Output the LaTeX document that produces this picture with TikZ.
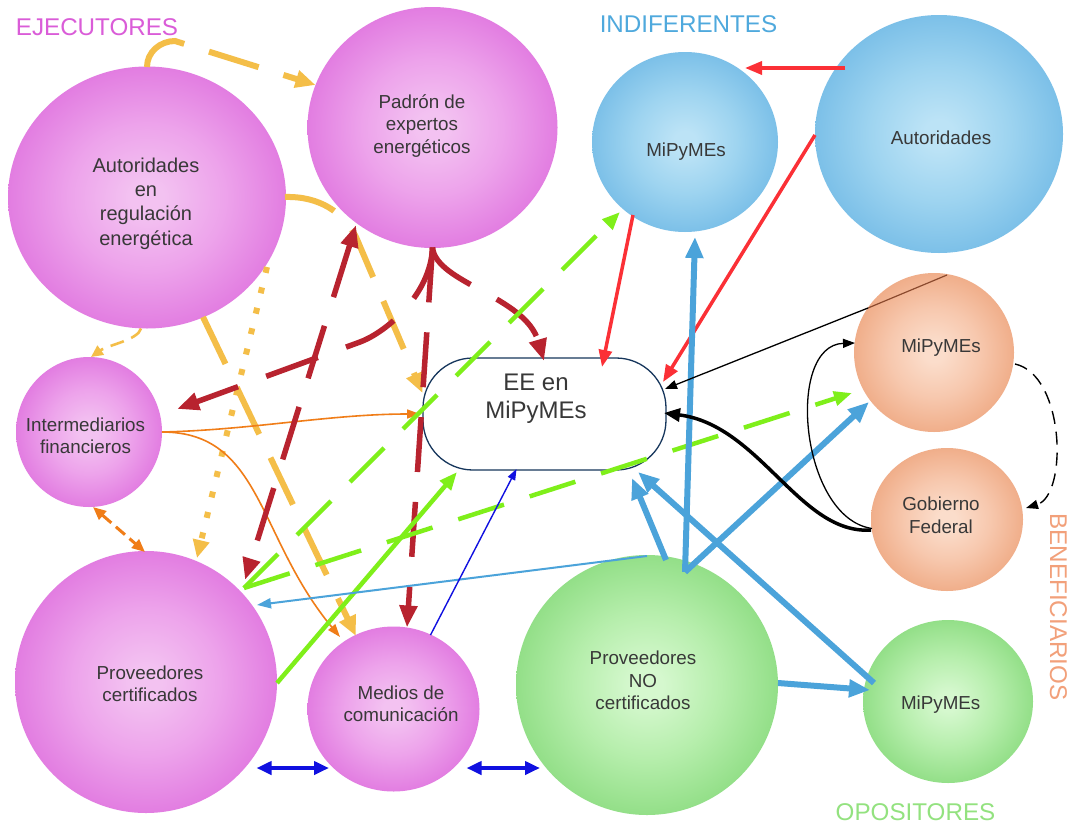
\documentclass[tikz,border=0pt]{standalone}
\usepackage{fontspec}
\setmainfont{Liberation Sans}
\usetikzlibrary{arrows.meta,shapes.geometric}
\definecolor{pA}{HTML}{F3C2F1}
\definecolor{pB}{HTML}{EDA3EB}
\definecolor{pC}{HTML}{E27DE1}
\definecolor{pD}{HTML}{CD57D1}
\definecolor{pE}{HTML}{C042C6}
\definecolor{bA}{HTML}{BCE3F6}
\definecolor{bB}{HTML}{9ED4F0}
\definecolor{bC}{HTML}{7CC0E8}
\definecolor{bD}{HTML}{55A8DB}
\definecolor{bE}{HTML}{3D96D0}
\definecolor{oA}{HTML}{FBDDCB}
\definecolor{oB}{HTML}{F7C8AE}
\definecolor{oC}{HTML}{F0AE8A}
\definecolor{oD}{HTML}{E59A6F}
\definecolor{oE}{HTML}{DC8656}
\definecolor{gA}{HTML}{D5F8CE}
\definecolor{gB}{HTML}{B6EEAC}
\definecolor{gC}{HTML}{93DF88}
\definecolor{gD}{HTML}{72CF69}
\definecolor{gE}{HTML}{5DC455}
\definecolor{txt}{HTML}{383838}
\definecolor{eeb}{HTML}{16365C}
\definecolor{ylwc}{HTML}{F4BE48}
\definecolor{dredc}{HTML}{B8232F}
\definecolor{redc}{HTML}{FB3036}
\definecolor{limec}{HTML}{7FEF1A}
\definecolor{bluec}{HTML}{4BA3DA}
\definecolor{dbluec}{HTML}{1010E0}
\definecolor{orc}{HTML}{F07D18}
\definecolor{brn}{HTML}{8B4A2E}
\definecolor{labm}{HTML}{DA5CD8}
\definecolor{labb}{HTML}{4FA9DD}
\definecolor{labo}{HTML}{F2A07A}
\definecolor{labg}{HTML}{93E27F}
\pgfdeclareradialshading{purpsh}{\pgfpoint{0bp}{0bp}}{color(0bp)=(pA); color(3bp)=(pA); color(14bp)=(pB); color(25bp)=(pC); color(32bp)=(pD); color(35.4bp)=(pE); color(50bp)=(pE)}
\pgfdeclareradialshading{blush}{\pgfpoint{0bp}{0bp}}{color(0bp)=(bA); color(3bp)=(bA); color(14bp)=(bB); color(25bp)=(bC); color(32bp)=(bD); color(35.4bp)=(bE); color(50bp)=(bE)}
\pgfdeclareradialshading{orash}{\pgfpoint{0bp}{0bp}}{color(0bp)=(oA); color(3bp)=(oA); color(14bp)=(oB); color(25bp)=(oC); color(32bp)=(oD); color(35.4bp)=(oE); color(50bp)=(oE)}
\pgfdeclareradialshading{grnsh}{\pgfpoint{0bp}{0bp}}{color(0bp)=(gA); color(3bp)=(gA); color(14bp)=(gB); color(25bp)=(gC); color(32bp)=(gD); color(35.4bp)=(gE); color(50bp)=(gE)}
\begin{document}
\begin{tikzpicture}[x=1pt,y=-1pt,
  bub/.style={ellipse, inner sep=0pt, draw=none},
  purp/.style={bub, shade, shading=purpsh},
  blu/.style={bub, shade, shading=blush},
  ora/.style={bub, shade, shading=orash},
  grn/.style={bub, shade, shading=grnsh},
  eebox/.style={rectangle, rounded corners=50pt, minimum width=243pt, minimum height=112pt, draw=eeb, line width=1.3pt, fill=white, inner sep=0pt},
  txtst/.style={align=center, text=txt, font=\fontsize{18.8}{22.5}\selectfont, inner sep=0pt},
  lab/.style={font=\fontsize{24.2}{28}\selectfont, inner sep=0pt},
  ylw/.style={draw=ylwc, line width=6pt, dash pattern=on 52pt off 26pt, -{Triangle[length=20pt,width=17pt]}},
  ydot/.style={draw=ylwc, line width=6pt, dash pattern=on 6pt off 15pt, -{Triangle[length=18pt,width=16pt]}},
  ythin/.style={draw=ylwc, line width=2.6pt, dash pattern=on 14pt off 8pt, -{Triangle[length=12pt,width=11pt]}},
  dred/.style={draw=dredc, line width=5.5pt, dash pattern=on 55pt off 30pt, -{Triangle[length=22pt,width=17pt]}},
  redl/.style={draw=redc, line width=3.5pt, -{Triangle[length=17pt,width=13pt]}},
  limed/.style={draw=limec, line width=4.5pt, dash pattern=on 48pt off 27pt, -{Triangle[length=18pt,width=14pt]}},
  limes/.style={draw=limec, line width=4.5pt, -{Triangle[length=18pt,width=14pt]}},
  bthick/.style={draw=bluec, line width=6pt, -{Triangle[length=21pt,width=17pt]}},
  bthin/.style={draw=bluec, line width=2pt, -{Triangle[length=14pt,width=10pt]}},
  dbthin/.style={draw=dbluec, line width=1.4pt, -{Triangle[length=11pt,width=8pt]}},
  dbthick/.style={draw=dbluec, line width=4pt, {Triangle[length=15pt,width=13pt]}-{Triangle[length=15pt,width=13pt]}},
  orthin/.style={draw=orc, line width=1.6pt, -{Triangle[length=13pt,width=9pt]}},
  ordash/.style={draw=orc, line width=3pt, dash pattern=on 12pt off 6pt, {Triangle[length=13pt,width=11pt]}-{Triangle[length=13pt,width=11pt]}},
  kthin/.style={draw=black, line width=1.3pt, -{Triangle[length=12pt,width=9pt]}},
  kthick/.style={draw=black, line width=3.5pt, -{Triangle[length=16pt,width=13pt]}},
  kdash/.style={draw=black, line width=1.4pt, dash pattern=on 13pt off 8pt, -{Triangle[length=12pt,width=9pt]}}
]
\useasboundingbox (0,0) rectangle (1070,827);
\fill[white] (0,0) rectangle (1070,827);

% bubbles
\node[purp, minimum width=278pt, minimum height=262pt] (autreg) at (147,197.5) {};
\node[purp, minimum width=250pt, minimum height=241pt] (padron) at (432.5,127.5) {};
\node[purp, minimum width=146pt, minimum height=150pt] (inter) at (89,432) {};
\node[purp, minimum width=262pt, minimum height=262pt] (provcert) at (146,682) {};
\node[purp, minimum width=172pt, minimum height=165pt] (medios) at (393.5,709) {};
\node[blu, minimum width=186pt, minimum height=180pt] (mipyb) at (685,142) {};
\node[blu, minimum width=248pt, minimum height=238pt] (autb) at (939,134) {};
\node[ora, minimum width=160pt, minimum height=159pt] (mipyo) at (934,352.5) {};
\node[ora, minimum width=152pt, minimum height=143pt] (gobfed) at (947,519.5) {};
\node[grn, minimum width=262pt, minimum height=260pt] (provno) at (647,685) {};
\node[grn, minimum width=170pt, minimum height=163pt] (mipyg) at (948,701.5) {};
\node[eebox] (ee) at (544.5,414) {};

% texts
\node[txtst, font=\fontsize{20}{24.3}\selectfont] (autregt) at (146,203.5) {Autoridades\\en\\regulación\\energética};
\node[txtst] (padront) at (422,126) {Padrón de\\expertos\\energéticos};
\node[txtst, font=\fontsize{18.8}{22}\selectfont] (intert) at (85.5,436) {Intermediarios\\financieros};
\node[txtst] (provcertt) at (150,684) {Proveedores\\certificados};
\node[txtst] (mediost) at (401,704) {Medios de\\comunicación};
\node[txtst] (mipybt) at (686,152) {MiPyMEs};
\node[txtst] (autbt) at (941,138) {Autoridades};
\node[txtst] (mipyot) at (941,348) {MiPyMEs};
\node[txtst] (gobfedt) at (941,515.5) {Gobierno\\Federal};
\node[txtst] (provnot) at (643,680.5) {Proveedores\\NO\\certificados};
\node[txtst] (mipygt) at (940.7,705) {MiPyMEs};
\node[txtst, font=\fontsize{24}{28}\selectfont] (eet) at (536,399) {EE en\\MiPyMEs};

% group labels
\node[lab, text=labm] (lejec) at (97,27) {EJECUTORES};
\node[lab, text=labb] (lindif) at (688.5,24) {INDIFERENTES};
\node[lab, text=labo, rotate=-90] (lbenef) at (1058.5,607) {BENEFICIARIOS};
\node[lab, text=labg] (lopos) at (915.5,812) {OPOSITORES};

% yellow connectors
\draw[ylw] ([shift={(0,-130.5)}]autreg.center) to[out=90,in=180] (175,41) -- ([shift={(-117,-42.5)}]padron.center);
\draw[ylw] ([shift={(138,-0.5)}]autreg.center) .. controls (320,196) and (344,213) .. (356,237) -- ([shift={(-122,-21)}]ee.center);
\draw[ylw] ([shift={(56,119.5)}]autreg.center) -- ([shift={(-37.5,-73)}]medios.center);
\draw[ydot] ([shift={(120,69.5)}]autreg.center) -- ([shift={(51,-124)}]provcert.center);
\draw[ythin] ([shift={(-6,131)}]autreg.center) .. controls (138,340) and (108,345) .. ([shift={(2,-75)}]inter.center);

% orange connectors
\draw[orthin] ([shift={(73,0)}]inter.center) .. controls (252,430) and (330,414) .. ([shift={(-124.5,0)}]ee.center);
\draw[orthin] ([shift={(73,0)}]inter.center) .. controls (262,432) and (257,537) .. ([shift={(-53.5,-72)}]medios.center);
\draw[ordash] ([shift={(4,75)}]inter.center) -- ([shift={(-1,-130)}]provcert.center);

% dark red connectors
\draw[dred] ([shift={(0,120)}]padron.center) -- ([shift={(13.5,-81.5)}]medios.center);
\draw[dred] ([shift={(0,120)}]padron.center) .. controls (436,283) and (525,296) .. ([shift={(-0.5,-53)}]ee.center);
\draw[dred] ([shift={(0,120)}]padron.center) .. controls (431,293) and (388,331.5) .. (360,342) -- ([shift={(88,-23)}]inter.center);
\draw[dred, {Triangle[length=22pt,width=17pt]}-{Triangle[length=22pt,width=17pt]}] ([shift={(-76.5,97.5)}]padron.center) -- ([shift={(99,-102)}]provcert.center);

% red connectors
\draw[redl] ([shift={(-94,-66)}]autb.center) -- ([shift={(60,-74)}]mipyb.center);
\draw[redl] ([shift={(-124,1)}]autb.center) -- ([shift={(118.5,-32)}]ee.center);
\draw[redl] ([shift={(-52,73)}]mipyb.center) -- ([shift={(57.5,-47)}]ee.center);

% lime connectors
\draw[limed] ([shift={(98,-94)}]provcert.center) -- ([shift={(-65,70)}]mipyb.center);
\draw[limes] ([shift={(131,1)}]provcert.center) -- ([shift={(-87.5,58)}]ee.center);
\draw[limed] ([shift={(98,-94)}]provcert.center) -- ([shift={(-82,40.5)}]mipyo.center);

% blue connectors
\draw[bthick] ([shift={(38,-113)}]provno.center) -- ([shift={(10,95)}]mipyb.center);
\draw[bthick] ([shift={(38,-113)}]provno.center) -- ([shift={(-65,49.5)}]mipyo.center);
\draw[bthick] ([shift={(19,-125)}]provno.center) -- ([shift={(87.5,64)}]ee.center);
\draw[bthick] ([shift={(-74,-18.5)}]mipyg.center) -- ([shift={(93.5,58)}]ee.center);
\draw[bthick] ([shift={(131,-2)}]provno.center) -- ([shift={(-78,-11.5)}]mipyg.center);
\draw[bthin] ([shift={(0,-129)}]provno.center) -- ([shift={(111,-77)}]provcert.center);

% dark blue connectors
\draw[dbthin] ([shift={(37,-74)}]medios.center) -- ([shift={(-28,55)}]ee.center);
\draw[dbthick] ([shift={(110.5,86)}]provcert.center) -- ([shift={(-64.5,59)}]medios.center);
\draw[dbthick] ([shift={(73,59)}]medios.center) -- ([shift={(-107,83)}]provno.center);

% black connectors
\draw[draw=brn, line width=1.2pt] ([shift={(13,-77.5)}]mipyo.center) -- ([shift={(-66,-44.5)}]mipyo.center);
\draw[kthin] ([shift={(-66,-44.5)}]mipyo.center) -- ([shift={(120.5,-25)}]ee.center);
\draw[kthick] ([shift={(-76,10.5)}]gobfed.center) .. controls (800,535) and (760,425) .. ([shift={(119.5,-1)}]ee.center);
\draw[kthin] ([shift={(-75,9)}]gobfed.center) .. controls (800,518) and (785,345) .. ([shift={(-79,-9.5)}]mipyo.center);
\draw[kdash] ([shift={(81,11.5)}]mipyo.center) .. controls (1065,375) and (1068,495) .. ([shift={(79,-11.5)}]gobfed.center);
\end{tikzpicture}
\end{document}
